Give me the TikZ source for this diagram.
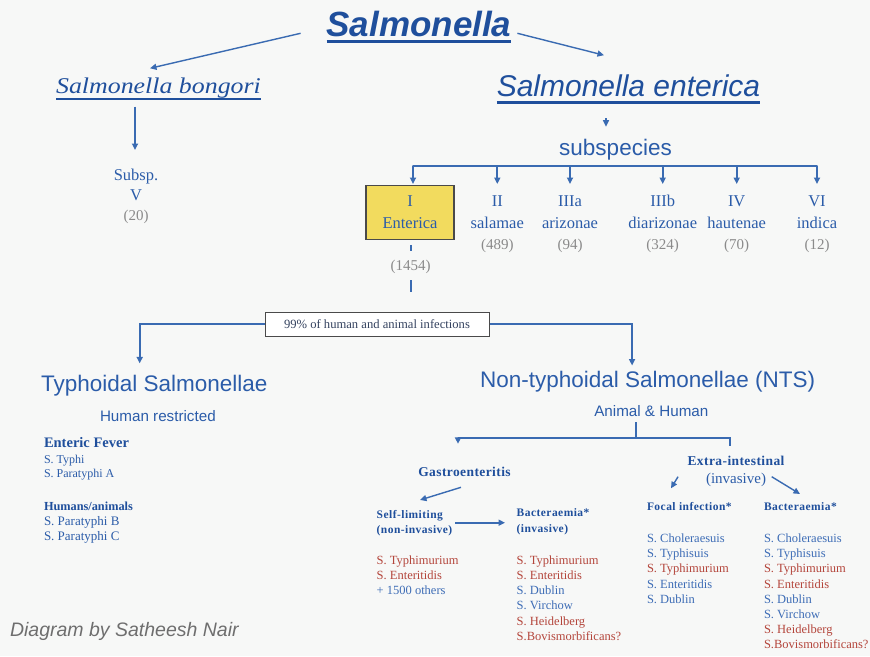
\documentclass[tikz,border=0pt]{standalone}
\usepackage{fontspec}
\setmainfont{Liberation Serif}
\setsansfont{Liberation Sans}
\newfontfamily\widserif[FakeStretch=1.15]{Liberation Serif}
\usetikzlibrary{arrows.meta,calc}

\definecolor{paper}{HTML}{F7F8F7}
\definecolor{headblue}{HTML}{1F4F9C}
\definecolor{ink}{HTML}{2B5CA9}
\definecolor{softblue}{HTML}{3E6DB6}
\definecolor{wirecol}{HTML}{3A6BB2}
\definecolor{redtx}{HTML}{B4463C}
\definecolor{countgrey}{HTML}{8A8A8A}
\definecolor{boxyellow}{HTML}{F2DB5E}
\definecolor{boxedge}{HTML}{4A4A4A}
\definecolor{notegrey}{HTML}{6E6E6E}
\definecolor{navy}{HTML}{34425F}

\newcommand{\px}[1]{\fontsize{#1}{#1}\selectfont}

\tikzset{
  txt/.style={inner sep=0pt, outer sep=0pt, text=ink},
  ser/.style={txt, font=\rmfamily\px{16.5}},
  cnt/.style={txt, text=countgrey, font=\rmfamily\px{15}},
  hdr/.style={txt, font=\sffamily\px{22.5}},
  sub/.style={txt, font=\sffamily\px{15.2}},
  bhead/.style={txt, text=headblue, font=\rmfamily\bfseries\px{13.5}\addfontfeature{LetterSpace=3}},
  bsmall/.style={txt, text=headblue, font=\rmfamily\bfseries\px{11.5}\addfontfeature{LetterSpace=4}},
  item/.style={txt, text=softblue, font=\rmfamily\px{12.5}, anchor=base west},
  wire/.style={draw=wirecol, line width=1.7pt},
  arr/.style={wire, -{Triangle[length=6.5pt,width=6pt]}},
  uline/.style={draw=headblue, line cap=butt},
}

\begin{document}
\begin{tikzpicture}[x=1pt,y=-1pt]
\useasboundingbox (0,0) rectangle (870,656);
\fill[paper] (0,0) rectangle (870,656);

% genus and species
\node[txt, text=headblue, anchor=base, font=\sffamily\bfseries\itshape\px{35}] (title) at (419,36) {Salmonella};
\draw[uline, line width=2.8pt] ($(title.base west)+(0,5.7)$) -- ($(title.base east)+(0,5.7)$);

\node[txt, text=headblue, anchor=base, font=\widserif\itshape\px{22.5}] (bongori) at (158.5,93.3) {Salmonella bongori};
\draw[uline, line width=1.8pt] ($(bongori.base west)+(0,6)$) -- ($(bongori.base east)+(0,6)$);

\node[txt, text=headblue, anchor=base, font=\sffamily\itshape\px{30}] (enterica) at (628.5,96.7) {Salmonella enterica};
\draw[uline, line width=2.6pt] ($(enterica.base west)+(0,5.6)$) -- ($(enterica.base east)+(0,5.6)$);

\draw[arr, line width=1.4pt] ($(title.base west)+(-26,-2.7)$) -- ($(bongori.base)+(-8.5,-25)$);
\draw[arr, line width=1.4pt] ($(title.base east)+(6,-2.7)$) -- ($(enterica.base)+(-24.5,-41.5)$);

% bongori branch
\node[ser, anchor=base] (subsp) at (136,180.7) {Subsp.};
\node[ser, anchor=base] (subspV) at (136,200) {V};
\node[cnt, anchor=base] (c20) at (136,220) {(20)};
\draw[arr] ($(bongori.base -| subsp)+(-1,13.4)$) -- ($(subsp.base)+(-1,-30.7)$);

% enterica branch
\node[txt, anchor=base, font=\sffamily\px{22.5}] (subspecies) at (615.5,155) {subspecies};
\draw[arr, line width=1.4pt] ($(enterica.base)+(-22.5,21.3)$) -- ($(subspecies.base)+(-9.5,-28.3)$);

\coordinate (bar) at (0,166);
\coordinate (tip) at (0,184);

\node[draw=boxedge, line width=1.3pt, fill=boxyellow, minimum width=88pt, minimum height=54pt,
      inner sep=0pt, align=center, text=ink, font=\rmfamily\fontsize{16.5}{21.6}\selectfont] (subI) at (410,212.2) {I\\Enterica};

\node[ser, anchor=base] (sII)   at (497.3,206.7) {II};
\node[ser, anchor=base] (sIIIa) at (570,206.7) {IIIa};
\node[ser, anchor=base] (sIIIb) at (662.7,206.7) {IIIb};
\node[ser, anchor=base] (sIV)   at (736.7,206.7) {IV};
\node[ser, anchor=base] (sVI)   at (817,206.7) {VI};

\node[ser, anchor=base] (nII)   at (497.3,228.3) {salamae};
\node[ser, anchor=base] (nIIIa) at (570,228.3) {arizonae};
\node[ser, anchor=base] (nIIIb) at (662.7,228.3) {diarizonae};
\node[ser, anchor=base] (nIV)   at (736.7,228.3) {hautenae};
\node[ser, anchor=base] (nVI)   at (817,228.3) {indica};

\node[cnt, anchor=base] (kII)   at (497.3,249) {(489)};
\node[cnt, anchor=base] (kIIIa) at (570,249) {(94)};
\node[cnt, anchor=base] (kIIIb) at (662.7,249) {(324)};
\node[cnt, anchor=base] (kIV)   at (736.7,249) {(70)};
\node[cnt, anchor=base] (kVI)   at (817,249) {(12)};

\draw[wire, line cap=round] ($(subI.north |- bar)+(3,0)$) -- (sVI |- bar);
\draw[arr] ($(subI.north |- bar)+(3,0)$) -- ($(subI.north |- tip)+(3,0)$);
\foreach \c in {sII,sIIIa,sIIIb,sIV,sVI}
  \draw[arr] (\c |- bar) -- (\c |- tip);

% count of serovars in subspecies I
\node[cnt, anchor=base] (c1454) at (410.7,270) {(1454)};
\draw[wire] ($(subI.south)+(0.7,5)$) -- ($(subI.south)+(0.7,11)$);

% share of infections
\node[draw=boxedge, line width=1pt, fill=white, minimum width=224pt, minimum height=24pt,
      inner sep=0pt, text=navy, font=\rmfamily\px{12.6}] (infbox) at (377,324) {99\% of human and animal infections};
\draw[wire, shorten <=7pt, shorten >=19.3pt] (c1454.south) -- (c1454.south |- infbox.north);

% typhoidal
\node[hdr, anchor=base west] (typh) at (41,391.7) {Typhoidal Salmonellae};
\node[sub, anchor=base west] (humres) at (100,421.7) {Human restricted};
\node[txt, text=headblue, anchor=base west, font=\rmfamily\bfseries\px{14.5}] (enteric) at (44,447) {Enteric Fever};
\node[item, text=ink, font=\rmfamily\px{12}] (ty1) at (44,463) {S. Typhi};
\node[item, text=ink, font=\rmfamily\px{12}] (ty2) at (44,477) {S. Paratyphi A};
\node[txt, text=headblue, anchor=base west, font=\rmfamily\bfseries\px{12.3}] (humani) at (44,510) {Humans/animals};
\node[item, text=ink, font=\rmfamily\px{13}] (ty3) at (44,525) {S. Paratyphi B};
\node[item, text=ink, font=\rmfamily\px{13}] (ty4) at (44,540.7) {S. Paratyphi C};

\draw[arr, shorten >=12pt] (infbox.west) -| ($(typh.north)+(-14.5,0)$);

% non-typhoidal
\node[hdr, anchor=base west] (nts) at (480,387.3) {Non-typhoidal Salmonellae (NTS)};
\node[sub, anchor=base west] (animhum) at (594.3,416) {Animal \& Human};
\draw[arr, shorten >=5.5pt] (infbox.east) -| ($(nts.north)+(-15.5,0)$);

\coordinate (fork) at (636,438);
\draw[wire, shorten <=6pt] (animhum.south -| fork) -- (fork);

\node[bhead, anchor=base west] (gastro) at (418.3,476.7) {Gastroenteritis};
\node[bhead, anchor=base] (extra) at (736,465) {Extra-intestinal};
\node[txt, anchor=base, font=\rmfamily\px{15}] (inv) at (736,483.3) {(invasive)};

\draw[arr, shorten >=23.5pt] (fork) -| ($(gastro.north)+(-6.5,0)$);
\draw[wire, shorten >=10pt] (fork) -| ($(extra.north)+(-6,0)$);

% gastroenteritis
\node[bsmall, anchor=base west] (selflim) at (376.7,518.3) {Self-limiting};
\node[bsmall, anchor=base west] (noninv) at (376.7,533) {(non-invasive)};
\node[bsmall, anchor=base west] (bact1) at (516.7,516.7) {Bacteraemia*};
\node[bsmall, anchor=base west] (inv1) at (516.7,532) {(invasive)};

\draw[arr, line width=1.4pt] ($(gastro.base west)+(42.7,10.6)$) -- ($(selflim.base west)+(43.3,-18.3)$);
\draw[arr] ($(selflim.base west)+(78.3,4.4)$) -- ($(bact1.base west)+(-11.7,6)$);

\foreach \t/\c [count=\i] in {S. Typhimurium/redtx, S. Enteritidis/redtx, + 1500 others/softblue}
  \node[item, text=\c] (gl\i) at (376.7,{564+15*(\i-1)}) {\t};

\foreach \t/\c [count=\i] in {S. Typhimurium/redtx, S. Enteritidis/redtx, S. Dublin/softblue,
    S. Virchow/softblue, S. Heidelberg/redtx, S.Bovismorbificans?/redtx}
  \node[item, text=\c] (gb\i) at (516.7,{564+15.3*(\i-1)}) {\t};

% extra-intestinal
\node[bsmall, anchor=base west] (focal) at (647,510.7) {Focal infection*};
\node[bsmall, anchor=base west] (bact2) at (764,510.7) {Bacteraemia*};

\draw[arr, line width=1.4pt] ($(inv.base west)+(-28,-6.6)$) -- ($(inv.base west)+(-35,5)$);
\draw[arr, line width=1.4pt] ($(inv.base east)+(5.7,-6.6)$) -- ($(inv.base east)+(34,10.7)$);

\foreach \t/\c [count=\i] in {S. Choleraesuis/softblue, S. Typhisuis/softblue, S. Typhimurium/redtx,
    S. Enteritidis/softblue, S. Dublin/softblue}
  \node[item, text=\c] (ef\i) at (647,{542.7+15.1*(\i-1)}) {\t};

\foreach \t/\c [count=\i] in {S. Choleraesuis/softblue, S. Typhisuis/softblue, S. Typhimurium/redtx,
    S. Enteritidis/redtx, S. Dublin/softblue, S. Virchow/softblue, S. Heidelberg/redtx, S.Bovismorbificans?/redtx}
  \node[item, text=\c] (eb\i) at (764,{542.7+15.1*(\i-1)}) {\t};

% credit
\node[txt, text=notegrey, anchor=base west, font=\sffamily\itshape\px{19.5}] (credit) at (10,636.7) {Diagram by Satheesh Nair};
\end{tikzpicture}
\end{document}
